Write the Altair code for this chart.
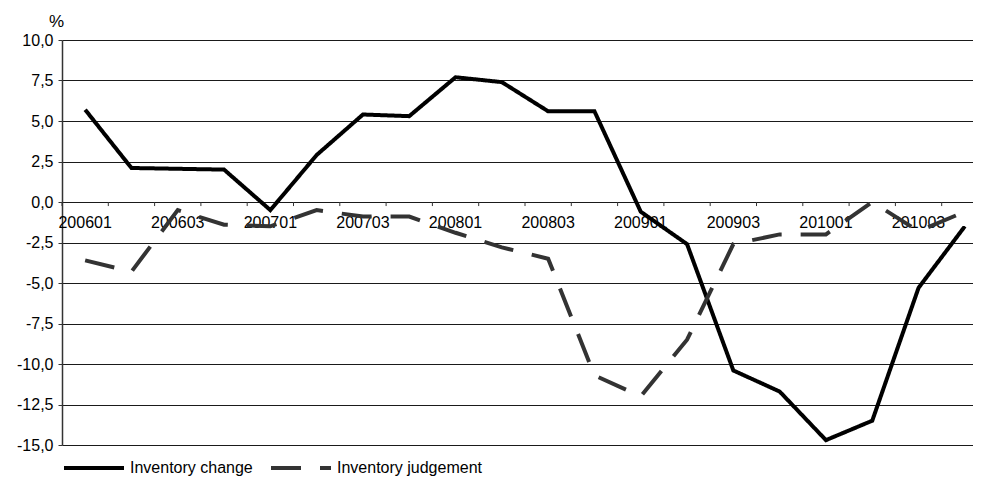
import altair as alt
import pandas as pd

quarters = ["200601", "200602", "200603", "200604",
            "200701", "200702", "200703", "200704",
            "200801", "200802", "200803", "200804",
            "200901", "200902", "200903", "200904",
            "201001", "201002", "201003", "201004"]
x_labels = ["200601", "200603", "200701", "200703", "200801",
            "200803", "200901", "200903", "201001", "201003"]
inventory_change = [5.7, 2.1, 2.05, 2.0, -0.5, 2.9, 5.4, 5.3, 7.7, 7.4,
                    5.6, 5.6, -0.6, -2.6, -10.4, -11.7, -14.7, -13.5, -5.3, -1.5]
inventory_judgement = [-3.6, -4.3, -0.5, -1.4, -1.5, -0.5, -0.9, -0.9, -1.9, -2.8,
                       -3.5, -10.7, -12.0, -8.5, -2.6, -2.0, -2.0, 0.0, -1.8, -0.6]
series_names = ["Inventory change", "Inventory judgement"]
y_ticks = [10.0, 7.5, 5.0, 2.5, 0.0, -2.5, -5.0, -7.5, -10.0, -12.5, -15.0]

rows = []
for q, v in zip(quarters, inventory_change):
    rows.append({"quarter": q, "value": v, "series": series_names[0]})
for q, v in zip(quarters, inventory_judgement):
    rows.append({"quarter": q, "value": v, "series": series_names[1]})
df = pd.DataFrame(rows)
qdf = pd.DataFrame({"quarter": quarters})
ldf = pd.DataFrame({"quarter": x_labels})

FONT = "Liberation Sans"
# the original plot area runs past the right edge of the picture
xscale = alt.Scale(type="band", paddingInner=0, paddingOuter=0, range=[0, 926])


def make_legend():
    return alt.Legend(title=None, orient="bottom", direction="horizontal",
                      offset=-13, symbolType="stroke", symbolSize=3600,
                      symbolStrokeWidth=4, labelFontSize=16,
                      labelFont=FONT, labelColor="#000000")


lines = alt.Chart(df).mark_line(strokeWidth=4).encode(
    x=alt.X("quarter:O", sort=quarters, scale=xscale, axis=None),
    y=alt.Y("value:Q",
            scale=alt.Scale(domain=[-15, 10], nice=False, zero=False),
            axis=alt.Axis(values=y_ticks, title="%", titleAngle=0,
                          titleX=-6, titleY=-19, titleAlign="center",
                          titleBaseline="middle", titleFontSize=17,
                          titleFont=FONT, titleFontWeight="normal",
                          titleColor="#000000",
                          grid=True, gridColor="#1a1a1a", gridWidth=1,
                          domainColor="#333333", domainWidth=1.5,
                          tickColor="#333333", tickSize=4,
                          labelFontSize=16, labelFont=FONT, labelColor="#000000",
                          labelPadding=5,
                          labelExpr="replace(replace(format(datum.value, '.1f'), '.', ','), '\u2212', '-')")),
    color=alt.Color("series:N",
                    scale=alt.Scale(domain=series_names, range=["#000000", "#333333"]),
                    legend=make_legend()),
    strokeDash=alt.StrokeDash("series:N",
                              scale=alt.Scale(domain=series_names, range=[[1, 0], [30, 19]]),
                              legend=make_legend()),
)

ticks = alt.Chart(qdf).mark_rule(color="#333333", strokeWidth=1).encode(
    x=alt.X("quarter:O", sort=quarters, scale=xscale, axis=None, bandPosition=0),
    y=alt.datum(0),
    y2=alt.datum(-0.25),
)

labels = alt.Chart(ldf).mark_text(fontSize=16, font=FONT, color="#000000",
                                  baseline="middle", align="center", dy=21).encode(
    x=alt.X("quarter:O", sort=quarters, scale=xscale, axis=None),
    y=alt.datum(0),
    text="quarter:N",
)

chart = alt.layer(ticks, labels, lines).properties(
    width=911, height=405,
    padding={"left": 8, "top": 4, "right": 0, "bottom": 0},
).configure(background="white").configure_view(stroke=None)

chart.save("out.html", embed_options={"renderer": "svg", "actions": False})
